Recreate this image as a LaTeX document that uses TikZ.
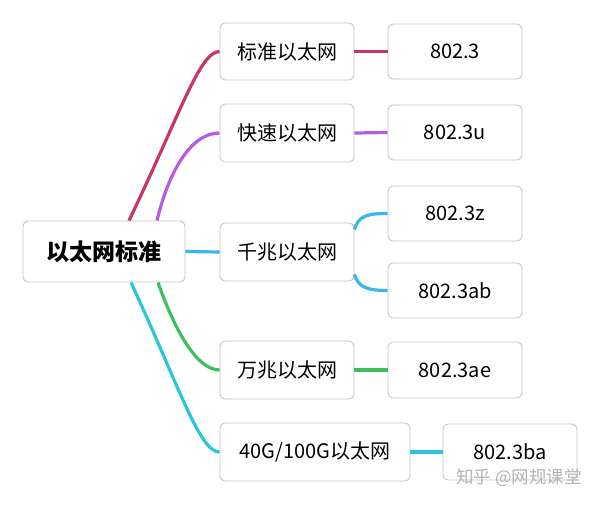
\documentclass[tikz,border=0pt]{standalone}
\usepackage{fontspec}
\setmainfont{Noto Sans CJK SC}
\begin{document}
\begin{tikzpicture}[x=1pt,y=-1pt,
  box/.style={draw=boxgray,line width=0.9pt,rounded corners=5pt,fill=white,inner sep=0pt,
    font=\fontsize{20}{22}\selectfont,text=black},
  rootbox/.style={box,font=\fontsize{23}{26}\selectfont\bfseries},
  link/.style={line width=3.2pt}]
\definecolor{boxgray}{HTML}{C6C6C6}
\definecolor{cred}{HTML}{C9356A}
\definecolor{cpurple}{HTML}{B65BE3}
\definecolor{cblue}{HTML}{3AB6EC}
\definecolor{cgreen}{HTML}{3FBE5E}
\definecolor{ccyan}{HTML}{2CC6DC}
\definecolor{wmgray}{HTML}{B4B4B4}
\useasboundingbox[fill=white] (0,0) rectangle (600,504);

\node[rootbox,minimum width=162pt,minimum height=61pt] (root) at (104,251.5) {以太网标准};

\node[box,minimum width=134pt,minimum height=57pt] (b1) at (287,51.5) {标准以太网};
\node[box,minimum width=134pt,minimum height=58pt] (b2) at (287,133) {快速以太网};
\node[box,minimum width=134pt,minimum height=58pt] (b3) at (287,252) {千兆以太网};
\node[box,minimum width=134pt,minimum height=58pt] (b4) at (287,370) {万兆以太网};
\node[box,minimum width=190pt,minimum height=58pt] (b5) at (315,452) {40G/100G以太网};

\node[box,minimum width=134pt,minimum height=55pt] (c1) at (455,51.5) {802.3};
\node[box,minimum width=134pt,minimum height=55pt] (c2) at (455,132.5) {802.3u};
\node[box,minimum width=134pt,minimum height=55pt] (c3) at (455,213.5) {802.3z};
\node[box,minimum width=134pt,minimum height=55pt] (c4) at (455,290.5) {802.3ab};
\node[box,minimum width=134pt,minimum height=56pt] (c5) at (455,370) {802.3ae};
\node[box,minimum width=134pt,minimum height=56pt] (c6) at (510,452) {802.3ba};

% root to level 1
\draw[link,cred] ([xshift=25pt]root.north) .. controls +(51,-106) and +(-20,0) .. (b1.west);
\draw[link,cpurple] ([xshift=53pt]root.north) .. controls +(11,-46) and +(-30,0) .. (b2.west);
\draw[link,cblue] (root.east) -- (b3.west);
\draw[link,cgreen] ([xshift=54pt]root.south) .. controls +(14,40) and +(-25,0) .. (b4.west);
\draw[link,ccyan] ([xshift=27pt]root.south) .. controls +(49,106) and +(-20,0) .. (b5.west);

% level 1 to level 2
\draw[link,cred] (b1.east) -- (c1.west);
\draw[link,cpurple] (b2.east) -- (c2.west);
\draw[link,cblue] ([yshift=-7pt]b3.north east) .. controls +(4,-14) and +(-20,0) .. (c3.west);
\draw[link,cblue] ([yshift=7pt]b3.south east) .. controls +(4,13) and +(-20,0) .. (c4.west);
\draw[link,cgreen] (b4.east) -- (c5.west);
\draw[link,ccyan] (b5.east) -- (c6.west);

% watermark
\node[text=wmgray,font=\fontsize{17.5}{19}\selectfont,inner sep=0pt] (wm) at (519,478) {知乎 @网规课堂};
\end{tikzpicture}
\end{document}
